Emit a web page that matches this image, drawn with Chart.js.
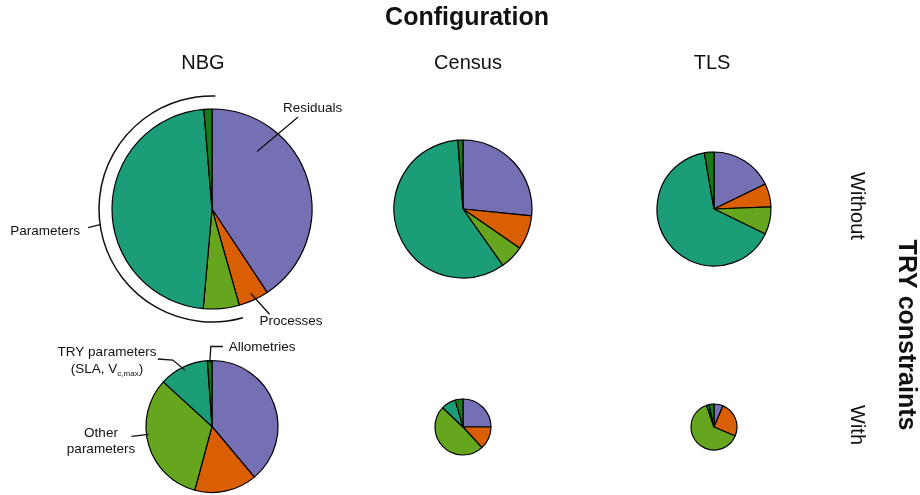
<!DOCTYPE html>
<html>
<head>
<meta charset="utf-8">
<script src="https://cdn.jsdelivr.net/npm/chart.js@4.4.1/dist/chart.umd.min.js"></script>
<style>
  html, body { margin: 0; padding: 0; background: #fff; }
  #wrap { position: relative; width: 920px; height: 495px; }
  #wrap canvas { position: absolute; left: 0; top: 0; }
</style>
</head>
<body>
<div id="wrap"></div>
<script>
// variance shares (%) per slice, clockwise from 12 o'clock
const components = ['Residuals', 'Processes', 'Other parameters', 'TRY parameters', 'Allometries'];
const configurations = ['NBG', 'Census', 'TLS'];
const constraints = ['Without', 'With'];

const nbgWithout    = [40.7, 4.9, 5.8, 47.3, 1.3];
const censusWithout = [26.6, 8.0, 5.6, 58.6, 1.2];
const tlsWithout    = [17.8, 6.6, 7.8, 65.1, 2.7];
const nbgWith       = [38.9, 15.3, 32.6, 12.1, 1.1];
const censusWith    = [25.0, 13.2, 48.9, 8.4, 4.5];
const tlsWith       = [6.4, 25.0, 63.4, 1.7, 3.5];

const sliceColors = ['#7570B3', '#D95F02', '#66A61E', '#1B9E77', '#1A7A1A'];

const W = 920, H = 495;
const FONT = '"Liberation Sans", Arial, sans-serif';
const INK = '#111';

// where each pie sits on the page
const panels = [
    { name: 'nbgWithout',    data: nbgWithout,    cx: 212, cy: 209, r: 100 },
    { name: 'censusWithout', data: censusWithout, cx: 463, cy: 209, r: 69 },
    { name: 'tlsWithout',    data: tlsWithout,    cx: 714, cy: 209, r: 57 },
    { name: 'nbgWith',       data: nbgWith,       cx: 212, cy: 427, r: 66 },
    { name: 'censusWith',    data: censusWith,    cx: 463, cy: 427, r: 28 },
    { name: 'tlsWith',       data: tlsWith,       cx: 714, cy: 427, r: 23 }
];

function line(ctx, pts) {
    ctx.beginPath();
    ctx.moveTo(pts[0][0], pts[0][1]);
    for (let i = 1; i < pts.length; i++) ctx.lineTo(pts[i][0], pts[i][1]);
    ctx.stroke();
}
// point on a pie: angle in degrees clockwise from 12 o'clock
function polar(el, deg, d) {
    const a = (deg - 90) * Math.PI / 180;
    return [el.x + d * Math.cos(a), el.y + d * Math.sin(a)];
}
function toDeg(rad) { return rad * 180 / Math.PI + 90; }
function lerp(a, b, t) { return a + (b - a) * t; }

function text(ctx, s, x, y, size, bold, align) {
    ctx.font = (bold ? 'bold ' : '') + size + 'px ' + FONT;
    ctx.textAlign = align || 'center';
    ctx.textBaseline = 'middle';
    ctx.fillText(s, x, y);
}

// headings and margin labels
const headingPlugin = {
    id: 'headings',
    afterDraw(chart) {
        const ctx = chart.ctx;
        ctx.save();
        ctx.fillStyle = INK;
        text(ctx, 'Configuration', 467, 18, 25, true);
        const hx = [203, 468, 712];
        configurations.forEach((c, i) => text(ctx, c, hx[i], 63, 20, false));
        const rows = [[857, 206], [857, 425]];
        constraints.forEach((c, i) => {
            ctx.save();
            ctx.translate(rows[i][0], rows[i][1]);
            ctx.rotate(Math.PI / 2);
            text(ctx, c, 0, 0, 20, false);
            ctx.restore();
        });
        ctx.save();
        ctx.translate(906, 335);
        ctx.rotate(Math.PI / 2);
        text(ctx, 'TRY constraints', 0, 0, 25, true);
        ctx.restore();
        ctx.restore();
    }
};

// callouts on the NBG pie without TRY constraints
const calloutsWithout = {
    id: 'calloutsWithout',
    afterDraw(chart) {
        const ctx = chart.ctx;
        const arcs = chart.getDatasetMeta(0).data;
        const r = arcs[0].outerRadius;
        ctx.save();
        ctx.strokeStyle = INK;
        ctx.fillStyle = INK;
        ctx.lineWidth = 1.3;

        // Residuals
        const res = arcs[0];
        const a0 = lerp(toDeg(res.startAngle), toDeg(res.endAngle), 0.26);
        const p0 = polar(res, a0, r * 0.73);
        const p1 = polar(res, a0 + 5, r * 1.26);
        line(ctx, [p0, p1]);
        text(ctx, components[0], p1[0] - 15, p1[1] - 9, 13.5, false, 'left');

        // Processes
        const pro = arcs[1];
        const am = lerp(toDeg(pro.startAngle), toDeg(pro.endAngle), 0.5);
        const q0 = polar(pro, am, r * 0.93);
        const q1 = polar(pro, am - 4, r * 1.2);
        line(ctx, [q0, q1]);
        text(ctx, components[1], q1[0] - 10, q1[1] + 7, 13.5, false, 'left');

        // Parameters bracket
        const ra = r + 13;
        ctx.lineWidth = 1.5;
        ctx.beginPath();
        ctx.arc(res.x, res.y, ra, arcs[2].startAngle, arcs[4].endAngle + 0.03);
        ctx.stroke();
        ctx.lineWidth = 1.3;
        const t0 = polar(res, 262, ra);
        const t1 = [t0[0] - 12, t0[1] + 3];
        line(ctx, [t0, t1]);
        text(ctx, 'Parameters', t1[0] - 8, t1[1] + 4, 13.5, false, 'right');
        ctx.restore();
    }
};

// callouts on the NBG pie with TRY constraints
const calloutsWith = {
    id: 'calloutsWith',
    afterDraw(chart) {
        const ctx = chart.ctx;
        const arcs = chart.getDatasetMeta(0).data;
        const r = arcs[0].outerRadius;
        ctx.save();
        ctx.strokeStyle = INK;
        ctx.fillStyle = INK;
        ctx.lineWidth = 1.3;

        // Allometries
        const al = arcs[4];
        const aAl = lerp(toDeg(al.startAngle), toDeg(al.endAngle), 0.5);
        const s0 = polar(al, aAl, r * 0.96);
        const s1 = [s0[0] + 1, al.y - r - 14];
        const s2 = [s1[0] + 12, s1[1]];
        line(ctx, [s0, s1, s2]);
        text(ctx, components[4], s2[0] + 6, s2[1] + 1, 13.5, false, 'left');

        // TRY parameters
        const tr = arcs[3];
        const aTr = lerp(toDeg(tr.startAngle), toDeg(tr.endAngle), 0.5);
        const u0 = polar(tr, aTr, r * 0.95);
        const u1 = [u0[0] - 12, u0[1] - 10];
        const u2 = [u1[0] - 15, u1[1] - 1];
        line(ctx, [u0, u1, u2]);
        const tx = 107;
        text(ctx, 'TRY parameters', tx, u2[1] - 7, 13.5, false);
        // (SLA, V_c,max)
        ctx.font = '13.5px ' + FONT;
        const wa = ctx.measureText('(SLA, V').width;
        const wc = ctx.measureText(')').width;
        ctx.font = '8px ' + FONT;
        const wb = ctx.measureText('c,max').width;
        let x = tx - (wa + wb + wc) / 2;
        const y2 = u2[1] + 10;
        text(ctx, '(SLA, V', x, y2, 13.5, false, 'left');
        x += wa;
        text(ctx, 'c,max', x, y2 + 5, 8, false, 'left');
        x += wb;
        text(ctx, ')', x, y2, 13.5, false, 'left');

        // Other parameters
        const ot = arcs[2];
        const v0 = polar(ot, 263, r * 0.97);
        const v1 = [v0[0] - 17, v0[1] + 2];
        line(ctx, [v0, v1]);
        text(ctx, 'Other', 101, v1[1] - 3, 13.5, false);
        text(ctx, 'parameters', 101, v1[1] + 13, 13.5, false);
        ctx.restore();
    }
};

const wrap = document.getElementById('wrap');
panels.forEach((p, i) => {
    const canvas = document.createElement('canvas');
    canvas.width = W;
    canvas.height = H;
    canvas.id = p.name;
    wrap.appendChild(canvas);

    const half = p.r + 3;
    const plugins = [];
    if (i === 0) plugins.push(headingPlugin, calloutsWithout);
    if (i === 3) plugins.push(calloutsWith);

    new Chart(canvas, {
        type: 'pie',
        data: {
            labels: components,
            datasets: [{
                data: p.data,
                backgroundColor: sliceColors,
                borderColor: '#000',
                borderWidth: 1.2,
                radius: p.r,
                hoverOffset: 0
            }]
        },
        options: {
            responsive: false,
            animation: false,
            events: [],
            layout: {
                padding: {
                    left: p.cx - half,
                    right: W - p.cx - half,
                    top: p.cy - half,
                    bottom: H - p.cy - half
                }
            },
            plugins: {
                legend: { display: false },
                tooltip: { enabled: false }
            }
        },
        plugins: plugins
    });
});
</script>
</body>
</html>
